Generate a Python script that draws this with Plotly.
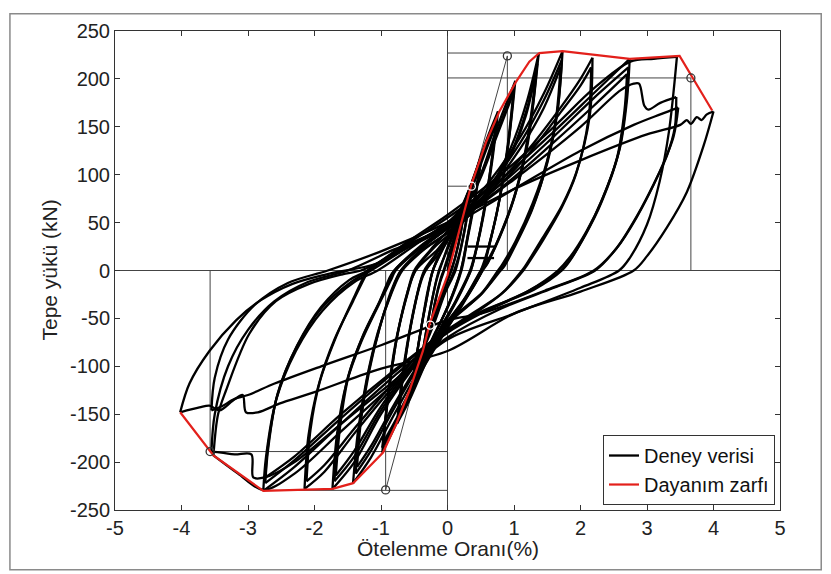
import plotly.graph_objects as go

# ---------------- data ----------------
x_ticks = [-5, -4, -3, -2, -1, 0, 1, 2, 3, 4, 5]
y_ticks = [-250, -200, -150, -100, -50, 0, 50, 100, 150, 200, 250]

# hysteresis cycles: (drift %, load kN) key points, in test order
cyc_025a = [(0, 0), (0.08, 22), (0.16, 42), (0.25, 62), (0.2, 40), (0.12, 15), (0.06, 0), (-0.04, -18), (-0.14, -38), (-0.24, -56), (-0.19, -35), (-0.11, -12), (-0.05, 0)]
cyc_025b = [(-0.05, 0), (0.04, 18), (0.14, 40), (0.24, 58), (0.19, 36), (0.11, 12), (0.05, 0), (-0.06, -20), (-0.15, -38), (-0.24, -53), (-0.18, -30), (-0.1, -8), (-0.06, 0)]
cyc_035a = [(-0.06, 0), (0.05, 24), (0.2, 55), (0.36, 88), (0.3, 58), (0.2, 22), (0.12, 0), (-0.04, -24), (-0.2, -55), (-0.37, -84), (-0.3, -55), (-0.2, -20), (-0.13, 0)]
cyc_035b = [(-0.13, 0), (0.0, 22), (0.18, 52), (0.35, 84), (0.28, 52), (0.18, 18), (0.1, 0), (-0.06, -26), (-0.22, -56), (-0.36, -80), (-0.28, -48), (-0.18, -14), (-0.12, 0)]
cyc_050a = [(-0.12, 0), (0.02, 28), (0.2, 60), (0.38, 95), (0.52, 122), (0.44, 88), (0.32, 42), (0.2, 0), (0.02, -35), (-0.2, -68), (-0.38, -95), (-0.52, -115), (-0.44, -78), (-0.32, -32), (-0.22, 0)]
cyc_050b = [(-0.22, 0), (-0.05, 26), (0.15, 55), (0.35, 88), (0.5, 116), (0.42, 80), (0.3, 35), (0.2, 0), (0.0, -38), (-0.2, -68), (-0.36, -90), (-0.5, -108), (-0.42, -70), (-0.3, -25), (-0.22, 0)]
cyc_050c = [(-0.22, 0), (-0.08, 24), (0.12, 52), (0.33, 85), (0.5, 112), (0.42, 76), (0.3, 32), (0.21, 0), (0.02, -36), (-0.18, -64), (-0.35, -88), (-0.5, -104), (-0.41, -66), (-0.3, -22), (-0.22, 0)]
cyc_075a = [(-0.22, 0), (-0.05, 25), (0.15, 52), (0.4, 98), (0.58, 135), (0.76, 166), (0.68, 118), (0.55, 60), (0.42, 18), (0.35, 0), (0.15, -30), (-0.1, -62), (-0.35, -100), (-0.55, -132), (-0.76, -160), (-0.68, -110), (-0.55, -55), (-0.42, -15), (-0.35, 0)]
cyc_075b = [(-0.35, 0), (-0.12, 22), (0.1, 45), (0.38, 90), (0.56, 126), (0.74, 158), (0.66, 112), (0.53, 55), (0.4, 14), (0.34, 0), (0.12, -32), (-0.12, -62), (-0.36, -98), (-0.56, -128), (-0.74, -153), (-0.66, -105), (-0.53, -50), (-0.4, -12), (-0.33, 0)]
cyc_075c = [(-0.33, 0), (-0.1, 20), (0.12, 46), (0.38, 88), (0.56, 122), (0.73, 152), (0.65, 108), (0.52, 52), (0.4, 12), (0.35, 0), (0.14, -30), (-0.1, -60), (-0.35, -95), (-0.55, -124), (-0.73, -148), (-0.65, -100), (-0.52, -46), (-0.4, -10), (-0.33, 0)]
cyc_100a = [(-0.33, 0), (-0.1, 25), (0.2, 55), (0.5, 100), (0.75, 150), (1.02, 198), (0.93, 140), (0.8, 80), (0.65, 32), (0.52, 0), (0.25, -32), (0.0, -60), (-0.35, -100), (-0.7, -150), (-0.98, -190), (-0.9, -132), (-0.78, -75), (-0.62, -28), (-0.5, 0)]
cyc_100b = [(-0.5, 0), (-0.25, 22), (0.1, 50), (0.45, 92), (0.75, 145), (1.0, 190), (0.92, 135), (0.78, 74), (0.63, 28), (0.5, 0), (0.22, -34), (-0.05, -62), (-0.4, -105), (-0.72, -150), (-0.98, -185), (-0.88, -125), (-0.76, -70), (-0.6, -24), (-0.48, 0)]
cyc_100c = [(-0.48, 0), (-0.15, 22), (0.15, 50), (0.48, 94), (0.75, 142), (0.99, 185), (0.9, 128), (0.77, 70), (0.62, 25), (0.52, 0), (0.24, -34), (-0.02, -62), (-0.38, -102), (-0.7, -146), (-0.97, -180), (-0.87, -120), (-0.75, -66), (-0.6, -22), (-0.48, 0)]
cyc_135a = [(-0.48, 0), (-0.2, 24), (0.2, 48), (0.6, 82), (0.95, 128), (1.2, 178), (1.37, 226), (1.3, 180), (1.2, 130), (1.02, 80), (0.8, 38), (0.6, 10), (0.5, 0), (0.25, -30), (-0.05, -58), (-0.4, -100), (-0.8, -150), (-1.15, -195), (-1.42, -222), (-1.35, -170), (-1.22, -115), (-1.05, -65), (-0.85, -25), (-0.68, 0)]
cyc_135b = [(-0.68, 0), (-0.35, 22), (0.1, 45), (0.55, 78), (0.95, 122), (1.2, 170), (1.35, 216), (1.28, 170), (1.17, 122), (1.0, 75), (0.78, 34), (0.6, 8), (0.52, 0), (0.28, -28), (-0.02, -56), (-0.42, -98), (-0.82, -146), (-1.15, -188), (-1.38, -212), (-1.32, -162), (-1.2, -110), (-1.03, -62), (-0.84, -22), (-0.7, 0)]
cyc_135c = [(-0.7, 0), (-0.4, 20), (0.05, 42), (0.5, 74), (0.92, 116), (1.18, 162), (1.33, 208), (1.26, 164), (1.15, 118), (0.98, 72), (0.76, 32), (0.6, 7), (0.53, 0), (0.3, -26), (0.0, -54), (-0.42, -96), (-0.82, -142), (-1.14, -182), (-1.36, -205), (-1.3, -156), (-1.18, -106), (-1.02, -60), (-0.84, -20), (-0.7, 0)]
cyc_175a = [(-0.7, 0), (-0.35, 25), (0.1, 50), (0.6, 90), (1.1, 140), (1.45, 185), (1.73, 229), (1.66, 170), (1.5, 115), (1.28, 70), (1.02, 30), (0.82, 6), (0.76, 0), (0.5, -25), (0.0, -56), (-0.5, -100), (-1.0, -150), (-1.4, -200), (-1.73, -228), (-1.66, -170), (-1.52, -118), (-1.3, -75), (-1.05, -38), (-0.85, -10), (-0.78, 0)]
cyc_175b = [(-0.78, 0), (-0.4, 24), (0.05, 47), (0.6, 86), (1.1, 134), (1.45, 178), (1.72, 220), (1.65, 164), (1.5, 112), (1.28, 66), (1.02, 28), (0.84, 5), (0.78, 0), (0.52, -24), (0.0, -55), (-0.5, -98), (-1.0, -146), (-1.4, -194), (-1.7, -220), (-1.63, -164), (-1.5, -112), (-1.28, -70), (-1.03, -34), (-0.86, -8), (-0.8, 0)]
cyc_175c = [(-0.8, 0), (-0.45, 22), (0.0, 44), (0.6, 82), (1.1, 128), (1.45, 170), (1.7, 212), (1.63, 158), (1.48, 108), (1.27, 63), (1.02, 26), (0.85, 4), (0.8, 0), (0.54, -22), (0.0, -54), (-0.5, -96), (-1.0, -142), (-1.4, -188), (-1.68, -214), (-1.61, -160), (-1.48, -108), (-1.26, -66), (-1.02, -32), (-0.86, -6), (-0.8, 0)]
cyc_220a = [(-0.8, 0), (-0.4, 26), (0.0, 46), (0.6, 80), (1.2, 125), (1.7, 170), (2.0, 200), (2.18, 222), (2.14, 162), (1.94, 103), (1.73, 69), (1.43, 34), (1.19, 7), (1.12, 0), (0.8, -25), (0.3, -50), (-0.2, -75), (-0.8, -120), (-1.4, -170), (-1.85, -210), (-2.15, -228), (-2.09, -172), (-1.94, -120), (-1.7, -72), (-1.42, -32), (-1.22, -4), (-1.18, 0)]
cyc_220b = [(-1.18, 0), (-0.7, 22), (-0.1, 44), (0.6, 78), (1.2, 120), (1.7, 165), (2.0, 193), (2.16, 212), (2.12, 158), (1.93, 100), (1.72, 66), (1.44, 32), (1.2, 6), (1.14, 0), (0.82, -24), (0.3, -48), (-0.2, -72), (-0.8, -116), (-1.4, -165), (-1.85, -203), (-2.12, -220), (-2.06, -166), (-1.92, -116), (-1.68, -70), (-1.42, -30), (-1.24, -4), (-1.2, 0)]
cyc_275a = [(-1.2, 0), (-0.6, 28), (0.0, 55), (0.8, 95), (1.6, 145), (2.2, 185), (2.74, 221), (2.7, 179), (2.59, 127), (2.33, 75), (2.09, 41), (1.83, 13), (1.66, 0), (1.2, -22), (0.5, -45), (0.0, -65), (-0.8, -110), (-1.6, -160), (-2.3, -205), (-2.77, -230), (-2.73, -195), (-2.58, -136), (-2.28, -84), (-1.88, -42), (-1.4, -12), (-1.05, 0)]
cyc_275b = [(-1.05, 0), (-0.5, 26), (0.0, 50), (0.8, 90), (1.6, 140), (2.2, 180), (2.72, 212), (2.68, 172), (2.57, 122), (2.32, 72), (2.08, 38), (1.84, 11), (1.7, 0), (1.25, -20), (0.5, -44), (0.0, -63), (-0.8, -106), (-1.6, -154), (-2.3, -198), (-2.74, -222), (-2.7, -188), (-2.56, -130), (-2.27, -80), (-1.9, -40), (-1.45, -12), (-1.15, 0)]
cyc_275c = [(-1.15, 0), (-0.6, 24), (0.0, 48), (0.8, 86), (1.6, 134), (2.2, 172), (2.7, 205), (2.66, 166), (2.55, 118), (2.3, 70), (2.06, 36), (1.84, 10), (1.72, 0), (1.3, -20), (0.5, -43), (0.0, -62), (-0.8, -104), (-1.6, -150), (-2.3, -194), (-2.74, -216), (-2.7, -184), (-2.55, -128), (-2.26, -78), (-1.9, -38), (-1.48, -10), (-1.2, 0)]
cyc_350a = [(-1.2, 0), (-0.6, 30), (0.0, 58), (0.8, 100), (1.6, 150), (2.2, 190), (2.75, 218), (3.1, 221), (3.45, 223), (3.33, 145), (3.19, 93), (3.0, 48), (2.74, 13), (2.58, 0), (2.0, -18), (1.0, -45), (0.0, -72), (-0.8, -118), (-1.6, -168), (-2.3, -212), (-2.77, -229), (-3.15, -212), (-3.52, -193), (-3.45, -150), (-3.33, -125), (-2.98, -66), (-2.58, -32), (-2.08, -14), (-1.58, -4), (-1.3, 0)]
cyc_350b = [(-1.3, 0), (-0.6, 24), (0.0, 45), (1.0, 95), (2.0, 150), (2.6, 188), (2.8, 195), (2.88, 195), (2.96, 172), (3.02, 168), (3.2, 175), (3.44, 181), (3.42, 150), (3.3, 120), (3.1, 90), (2.85, 57), (2.55, 24), (2.22, 0), (1.6, -18), (0.8, -40), (0.0, -70), (-0.8, -115), (-1.6, -160), (-2.3, -200), (-2.75, -216), (-2.92, -216), (-2.95, -192), (-3.2, -192), (-3.4, -190), (-3.55, -189), (-3.5, -150), (-3.3, -100), (-3.0, -62), (-2.6, -32), (-2.1, -12), (-1.5, 0)]
cyc_350c = [(-1.5, 0), (-0.8, 22), (0.0, 45), (1.0, 85), (2.0, 125), (2.8, 152), (3.2, 163), (3.47, 170), (3.4, 140), (3.19, 103), (2.84, 55), (2.54, 23), (2.2, 0), (1.5, -20), (0.5, -45), (0.0, -52), (-1.0, -78), (-1.9, -100), (-2.6, -118), (-3.0, -130), (-3.2, -134), (-3.4, -142), (-3.55, -146), (-3.5, -112), (-3.3, -72), (-2.9, -36), (-2.4, -13), (-1.8, 0)]
cyc_400 = [(-1.8, 0), (-1.0, 20), (0.0, 50), (1.0, 85), (2.0, 115), (3.0, 142), (3.5, 152), (3.6, 157), (3.66, 153), (3.75, 160), (3.82, 157), (3.9, 163), (4.0, 166), (3.85, 130), (3.6, 82), (3.3, 45), (3.0, 15), (2.8, 0), (2.0, -22), (1.0, -45), (0.0, -84), (-1.07, -104), (-2.0, -127), (-2.53, -139), (-2.85, -148), (-3.03, -148), (-3.08, -130), (-3.23, -136), (-3.43, -146), (-3.58, -141), (-3.73, -143), (-4.02, -148), (-3.88, -118), (-3.58, -84), (-3.18, -52), (-2.83, -32), (-2.33, -14), (-1.82, -4), (-1.07, 7), (-0.5, 28), (0.0, 50), (0.2, 64)]
# short flat records near the origin
flat_a = [(0.3, 25), (0.72, 25)]
flat_b = [(0.3, 13), (0.7, 13)]

cycles = [cyc_025a, cyc_025b, cyc_035a, cyc_035b, cyc_050a, cyc_050b, cyc_050c,
          cyc_075a, cyc_075b, cyc_075c, cyc_100a, cyc_100b, cyc_100c,
          cyc_135a, cyc_135b, cyc_135c, cyc_175a, cyc_175b, cyc_175c, cyc_220a, cyc_220b,
          cyc_275a, cyc_275b, cyc_275c, cyc_350a, cyc_350b, cyc_350c, cyc_400]

# strength envelope (Dayanım zarfı)
env_x = [-4.02, -3.52, -2.77, -1.73, -1.42, -0.97, -0.77, -0.57, -0.37, -0.27, 0.0, 0.18, 0.36, 0.58, 0.78, 1.03, 1.23, 1.38, 1.73, 2.74, 3.49, 3.98]
env_y = [-148, -193, -230, -228, -222, -190, -160, -125, -84, -56, -5, 44, 90, 134, 166, 197, 218, 227, 229, 221, 224, 167]

# idealisation points (circles)
pt_x = [0.36, 0.90, 3.66, -0.26, -3.57, -0.93]
pt_y = [88, 224, 201, -57, -189, -229]

# thin reference lines (start, end) in data units
ref_lines = [
    ((-5, 0), (5, 0)), ((0, -250), (0, 250)),
    ((0, 88), (0.36, 88)), ((0.36, 88), (0.90, 224)), ((0.90, 0), (0.90, 224)),
    ((0, 227), (1.37, 227)), ((0, 201), (3.66, 201)), ((3.66, 0), (3.66, 201)),
    ((-0.26, -57), (-0.93, -229)), ((-0.93, 0), (-0.93, -229)), ((-2.77, -229.5), (0, -229.5)),
    ((-3.57, -189), (0, -189)), ((-3.57, 0), (-3.57, -189)),
]

# ---------------- figure ----------------
FONT = "Liberation Sans, Arial, sans-serif"
fig = go.Figure()

gx, gy = [], []
for (a, b) in ref_lines:
    gx += [a[0], b[0], None]
    gy += [a[1], b[1], None]
fig.add_trace(go.Scatter(x=gx, y=gy, mode="lines", line=dict(color="#444444", width=1),
                         showlegend=False, hoverinfo="skip"))

# concatenate the test path and split it at drift reversals (branches)
path = []
for c in cycles:
    for p in c:
        if not path or path[-1] != p:
            path.append(p)
branches = []
cur = [path[0]]
for i in range(1, len(path)):
    cur.append(path[i])
    if 0 < i < len(path) - 1:
        xp, xc, xn = path[i - 1][0], path[i][0], path[i + 1][0]
        if (xc > xp and xc >= xn) or (xc < xp and xc <= xn):
            branches.append(cur)
            cur = [path[i]]
branches.append(cur)
branches += [flat_a, flat_b]

first = True
for br in branches:
    fig.add_trace(go.Scatter(
        x=[p[0] for p in br], y=[p[1] for p in br], mode="lines",
        line=dict(color="black", width=2.3, shape="spline", smoothing=0.9),
        name="Deney verisi", legendgroup="d", showlegend=first, hoverinfo="skip"))
    first = False

fig.add_trace(go.Scatter(x=env_x, y=env_y, mode="lines", name="Dayanım zarfı",
                         line=dict(color="#e3201b", width=2.2)))

fig.add_trace(go.Scatter(x=pt_x, y=pt_y, mode="markers", showlegend=False, hoverinfo="skip",
                         marker=dict(symbol="circle-open", size=8,
                                     color=["white", "#333333", "#333333", "white", "#333333", "#333333"],
                                     line=dict(width=1.3))))

axis_common = dict(showline=True, linecolor="#333333", linewidth=1, mirror="ticks",
                   ticks="inside", ticklen=5, tickcolor="#333333", showgrid=False,
                   zeroline=False, tickfont=dict(family=FONT, size=20, color="#222222"))
fig.update_xaxes(range=[-5, 5], tickvals=x_ticks, ticktext=[str(v) for v in x_ticks], **axis_common)
fig.update_yaxes(range=[-250, 250], tickvals=y_ticks, ticktext=[str(v) for v in y_ticks], **axis_common)

# page body has an 8px margin: figure is 823x566 so that it fills the 831x574 window
fig.update_layout(
    width=823, height=566,
    margin=dict(l=107, r=51, t=21, b=64),
    paper_bgcolor="white", plot_bgcolor="white",
    font=dict(family=FONT, color="#222222"),
    legend=dict(x=0.9925, y=0.0104, xanchor="right", yanchor="bottom",
                bgcolor="white", bordercolor="#333333", borderwidth=1,
                font=dict(family=FONT, size=20, color="#111111"), itemwidth=30,
                tracegroupgap=0),
    annotations=[
        dict(text="Ötelenme Oranı(%)", xref="paper", yref="paper", x=0.5, y=0,
             yshift=-38, showarrow=False, xanchor="center", yanchor="middle",
             font=dict(family=FONT, size=21, color="#222222")),
        dict(text="Tepe yükü (kN)", xref="paper", yref="paper", x=0, y=0.5,
             xshift=-66, showarrow=False, xanchor="center", yanchor="middle",
             textangle=-90, font=dict(family=FONT, size=21, color="#222222")),
    ],
    shapes=[dict(type="rect", xref="paper", yref="paper", x0=-0.158, x1=1.062,
                 y0=-0.1247, y1=1.036, line=dict(color="#8a8a8a", width=1.5),
                 layer="above")],
)

fig.write_html("out.html")
